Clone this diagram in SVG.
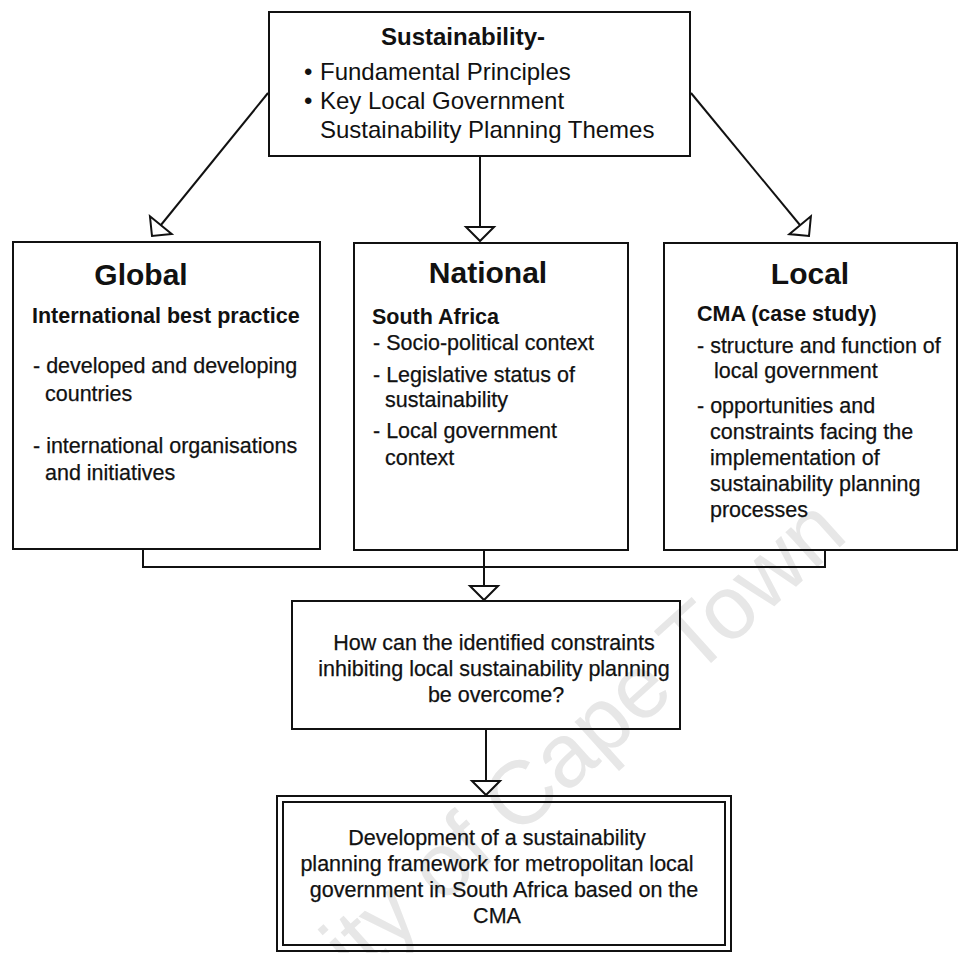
<svg xmlns="http://www.w3.org/2000/svg" width="961" height="953" viewBox="0 0 961 953">
  <style>
    .box { fill: none; stroke: #111; stroke-width: 2; }
    .wire { fill: none; stroke: #111; stroke-width: 2; }
    text { font-family: "Liberation Sans", Arial, Helvetica, sans-serif; fill: #111; }
    .title { font-size: 30px; font-weight: bold; text-anchor: middle; }
    .head { font-size: 21.5px; font-weight: bold; }
    .body { font-size: 21.5px; stroke: #111; stroke-width: 0.25px; }
    .top { font-size: 24px; }
    .mid { text-anchor: middle; }
    .mark { font-size: 90px; fill: #e7e7e7; stroke: none; }
  </style>
  <defs>
    <!-- hollow arrowhead: 90 degree apex, 28px base -->
    <marker id="open-tri" markerUnits="userSpaceOnUse" viewBox="0 0 16 30" refX="15" refY="15"
            markerWidth="16" markerHeight="30" orient="auto" overflow="visible">
      <path d="M1,1 L15,15 L1,29 Z" fill="#fff" stroke="#111" stroke-width="2" stroke-linejoin="miter"/>
    </marker>
  </defs>

  <rect width="961" height="953" fill="#fff"/>

  <!-- faint diagonal watermark behind everything -->
  <g id="watermark" transform="translate(850,538) rotate(-42)">
    <text class="mark" x="0" y="0" text-anchor="end">University of Cape Town</text>
  </g>

  <g id="connectors">
    <line class="wire" x1="480" y1="156" x2="480" y2="241" marker-end="url(#open-tri)"/>
    <line class="wire" x1="268" y1="93" x2="152" y2="236" marker-end="url(#open-tri)"/>
    <line class="wire" x1="691" y1="93" x2="809" y2="236" marker-end="url(#open-tri)"/>
    <path class="wire" d="M143,549 V567 H825 V550"/>
    <line class="wire" x1="484" y1="550" x2="484" y2="600" marker-end="url(#open-tri)"/>
    <line class="wire" x1="486" y1="729" x2="486" y2="795" marker-end="url(#open-tri)"/>
  </g>

  <g id="sustainability">
    <rect class="box" x="269" y="12" width="421" height="144"/>
    <text class="top mid" x="463" y="45" font-weight="bold">Sustainability-</text>
    <text class="top" x="304" y="80">•</text>
    <text class="top" x="320" y="80">Fundamental Principles</text>
    <text class="top" x="304" y="109">•</text>
    <text class="top" x="320" y="109">Key Local Government</text>
    <text class="top" x="320" y="138">Sustainability Planning Themes</text>
  </g>

  <g id="global">
    <rect class="box" x="13" y="242" width="307" height="307"/>
    <text class="title" x="141" y="285">Global</text>
    <text class="head" x="32" y="323">International best practice</text>
    <text class="body" x="33" y="373">- developed and developing</text>
    <text class="body" x="45" y="401">countries</text>
    <text class="body" x="33" y="453">- international organisations</text>
    <text class="body" x="45" y="480">and initiatives</text>
  </g>

  <g id="national">
    <rect class="box" x="354" y="243" width="274" height="307"/>
    <text class="title" x="488" y="283">National</text>
    <text class="head" x="372" y="324">South Africa</text>
    <text class="body" x="373" y="350">- Socio-political context</text>
    <text class="body" x="373" y="382">- Legislative status of</text>
    <text class="body" x="385" y="407">sustainability</text>
    <text class="body" x="373" y="438">- Local government</text>
    <text class="body" x="385" y="465">context</text>
  </g>

  <g id="local">
    <rect class="box" x="664" y="243" width="293" height="307"/>
    <text class="title" x="810" y="284">Local</text>
    <text class="head" x="697" y="321">CMA (case study)</text>
    <text class="body" x="697" y="353">- structure and function of</text>
    <text class="body" x="714" y="378">local government</text>
    <text class="body" x="697" y="413">- opportunities and</text>
    <text class="body" x="710" y="439">constraints facing the</text>
    <text class="body" x="710" y="465">implementation of</text>
    <text class="body" x="710" y="491">sustainability planning</text>
    <text class="body" x="710" y="517">processes</text>
  </g>

  <g id="question">
    <rect class="box" x="292" y="601" width="388" height="128"/>
    <text class="body mid" x="494" y="650">How can the identified constraints</text>
    <text class="body mid" x="494" y="676">inhibiting local sustainability planning</text>
    <text class="body mid" x="496" y="702">be overcome?</text>
  </g>

  <g id="framework">
    <rect class="box" x="277" y="796" width="454" height="155"/>
    <rect class="box" x="283" y="802" width="442" height="143"/>
    <text class="body mid" x="497" y="845">Development of a sustainability</text>
    <text class="body mid" x="497" y="871">planning framework for metropolitan local</text>
    <text class="body mid" x="504" y="897">government in South Africa based on the</text>
    <text class="body mid" x="497" y="923">CMA</text>
  </g>
</svg>
